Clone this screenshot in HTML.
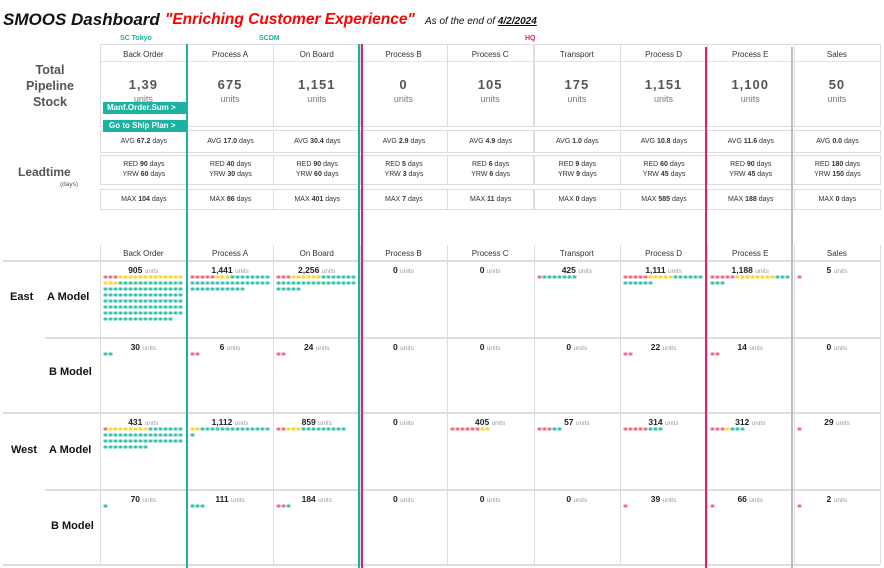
<!DOCTYPE html>
<html><head><meta charset="utf-8"><style>
body{margin:0;width:884px;height:568px;background:#fff;position:relative;overflow:hidden;font-family:"Liberation Sans",sans-serif;}
.a{position:absolute;}
.hdr{font-size:8px;color:#333;text-align:center;}
.box{position:absolute;border:1px solid #ddd;box-sizing:border-box;}
.sm{font-size:7px;color:#333;text-align:center;line-height:10px;}
.dot{position:absolute;width:5px;height:4px;border-radius:50%;box-sizing:border-box;}
</style></head><body>
<div class="a" style="left:3px;top:10px;font-size:17px;font-weight:bold;font-style:italic;color:#111;">SMOOS Dashboard</div>
<div class="a" style="left:165px;top:11px;font-size:15.5px;font-weight:bold;font-style:italic;color:#f00;">"Enriching Customer Experience"</div>
<div class="a" style="left:425px;top:16px;font-size:10px;font-style:italic;color:#111;">As of the end of <b style="text-decoration:underline">4/2/2024</b></div>
<div class="a" style="left:120px;top:35px;font-size:7px;color:#1ab3a0;font-weight:bold">SC Tokyo</div>
<div class="a" style="left:259px;top:35px;font-size:7px;color:#1ab3a0;font-weight:bold">SCDM</div>
<div class="a" style="left:525px;top:35px;font-size:7px;color:#e0206a;font-weight:bold">HQ</div>
<div class="a" style="left:5px;top:62px;width:90px;text-align:center;font-size:12.5px;font-weight:bold;color:#555;line-height:16px">Total<br>Pipeline<br>Stock</div>
<div class="a" style="left:18px;top:165px;font-size:12px;font-weight:bold;color:#555">Leadtime</div>
<div class="a" style="left:60px;top:181px;font-size:6.5px;color:#555">(days)</div>
<div id="root"></div>
<script>
const cols=["Back Order","Process A","On Board","Process B","Process C","Transport","Process D","Process E","Sales"];
const totals=["1,39","675","1,151","0","105","175","1,151","1,100","50"];
const avgDays=["67.2","17.0","30.4","2.9","4.9","1.0","10.8","11.6","0.0"];
const redDays=["90","40","90","5","6","9","60","90","180"];
const yrwDays=["60","30","60","3","6","9","45","45","150"];
const maxDays=["104","86","401","7","11","0","585","188","0"];
const rowLabels=["East A","East B","West A","West B"];
const cellValues=[
["905","1,441","2,256","0","0","425","1,111","1,188","5"],
["30","6","24","0","0","0","22","14","0"],
["431","1,112","859","0","405","57","314","312","29"],
["70","111","184","0","0","0","39","66","2"]];
const redDots=[[3,5,3,0,0,1,5,5,1],[0,2,2,0,0,0,2,2,0],[1,0,2,0,6,3,5,3,1],[0,0,2,0,0,0,1,1,1]];
const yellowDots=[[16,3,6,0,0,0,5,8,0],[0,0,0,0,0,0,0,0,0],[8,2,3,0,2,0,0,1,0],[0,0,0,0,0,0,0,0,0]];
const tealDots=[[107,35,28,0,0,7,12,6,0],[2,0,0,0,0,0,0,0,0],[48,15,9,0,0,2,3,3,0],[1,3,1,0,0,0,0,0,0]];
const root=document.getElementById('root');
const X0=100,CW=86.7;
function mk(cls,style,html){const d=document.createElement('div');d.className=cls;d.style.cssText=style;if(html!==undefined)d.innerHTML=html;root.appendChild(d);return d;}
cols.forEach((c,i)=>{
 const x=X0+i*CW;
 let e=mk('box',`left:${x}px;top:44px;width:${CW+1}px;height:83px;`);
 
 e=mk('a hdr',`left:${x}px;top:50px;width:${CW}px;`,c);
 
 mk('a','left:'+(x+1)+'px;top:61px;width:'+(CW-1)+'px;height:1px;background:#e4e4e4');
 e=mk('a',`left:${x}px;top:77px;width:${CW}px;text-align:center;font-size:13px;color:#555;font-weight:bold;letter-spacing:1px`,totals[i]);
 
 e=mk('a',`left:${x}px;top:94px;width:${CW}px;text-align:center;font-size:9px;color:#777`,'units');
 
 e=mk('box sm',`left:${x}px;top:130px;width:${CW+1}px;height:23px;padding-top:6px`,'AVG <b>'+avgDays[i]+'</b> days');
 
 e=mk('box sm',`left:${x}px;top:155px;width:${CW+1}px;height:30px;padding-top:4px`,'RED <b>'+redDays[i]+'</b> days<br>YRW <b>'+yrwDays[i]+'</b> days');
 
 e=mk('box sm',`left:${x}px;top:189px;width:${CW+1}px;height:21px;padding-top:5px`,'MAX <b>'+maxDays[i]+'</b> days');
 
 e=mk('a hdr',`left:${x}px;top:249px;width:${CW}px;`,c);
 
 mk('a',`left:${x}px;top:245px;width:1px;height:320px;background:#ddd`);
});
mk('a',`left:${X0+9*CW}px;top:245px;width:1px;height:320px;background:#ddd`);
[[3,260],[45,337],[3,412],[45,489],[3,564]].forEach(p=>mk('a',`left:${p[0]}px;top:${p[1]}px;width:${880-p[0]}px;height:1.5px;background:#ddd`));
[["East",10,291],["A Model",47,291],["B Model",49,366],["West",11,444],["A Model",49,444],["B Model",51,520]].forEach(l=>{
 const e=mk('a',`left:${l[1]}px;top:${l[2]}px;font-size:11px;font-weight:bold;color:#111`,l[0]);
 });
let b=mk('a',`left:103px;top:102px;width:83px;height:12px;background:#1ab3a0;color:#fff;font-size:8px;font-weight:bold;line-height:12px;padding-left:4px;box-sizing:border-box`,'Manf.Order.Sum &gt;');

b=mk('a',`left:103px;top:120px;width:83px;height:12px;background:#1ab3a0;color:#fff;font-size:8px;font-weight:bold;line-height:12px;padding-left:6px;box-sizing:border-box`,'Go to Ship Plan &gt;');

const rowTops=[260,337,412,489];
const colors=["#f0607a","#ffd21e","#2bbfaa"];
rowLabels.forEach((r,ri)=>{
 cols.forEach((c,ci)=>{
  const x=X0+ci*CW,y=rowTops[ri];
  let e=mk('a',`left:${x}px;top:${y+5}px;width:${CW}px;text-align:center;font-size:8.5px;font-weight:bold;color:#222`,cellValues[ri][ci]+' <span style="font-weight:normal;color:#999;font-size:6.5px">units</span>');
  
  const seq=[];
  for(let k=0;k<redDots[ri][ci];k++)seq.push(0);
  for(let k=0;k<yellowDots[ri][ci];k++)seq.push(1);
  for(let k=0;k<tealDots[ri][ci];k++)seq.push(2);
  seq.forEach((s,k)=>{
   const d=mk('dot',`left:${x+3+(k%16)*5}px;top:${y+15+Math.floor(k/16)*6}px;background:${colors[s]};border:1px solid rgba(255,255,255,.5)`);
   
   
  });
 });
});
[[186,"#1ab3a0",44],[358,"#1ab3a0",44],[361,"#e0206a",44],[705,"#e0206a",47],[791,"#bbb",47]].forEach(v=>{
 const e=mk('a',`left:${v[0]}px;top:${v[2]}px;width:2px;height:${568-v[2]}px;background:${v[1]}`);
 });
</script>
</body></html>
